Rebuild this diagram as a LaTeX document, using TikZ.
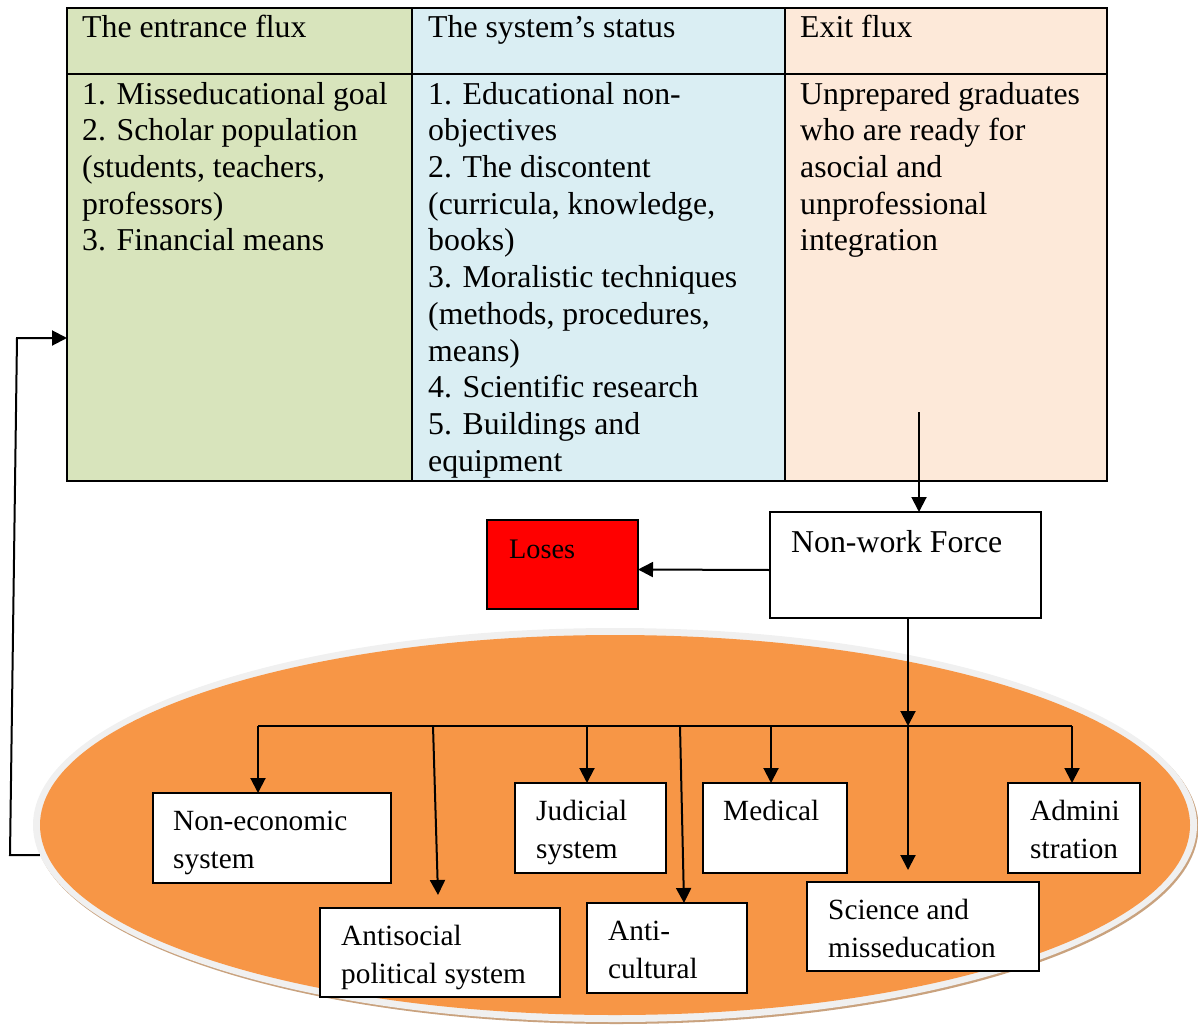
\documentclass[tikz,border=0pt]{standalone}
\usepackage{fontspec}
\setmainfont{Liberation Serif}
\usetikzlibrary{shapes.geometric,arrows.meta}
\definecolor{cellgreen}{HTML}{D8E4BC}
\definecolor{cellblue}{HTML}{DAEEF3}
\definecolor{cellpeach}{HTML}{FDE9D9}
\definecolor{fieldorange}{HTML}{F79646}
\definecolor{rimgray}{HTML}{F0F0F0}
\definecolor{rimshadow}{HTML}{C9A27E}
\definecolor{losered}{HTML}{FF0000}
\begin{document}
\begin{tikzpicture}[x=1pt,y=-1pt,
  cell/.style={draw=black, line width=2pt, anchor=north west, inner sep=0pt, outer sep=0pt},
  bigtext/.style={anchor=north west, inner sep=0pt, align=left, font=\fontsize{31.8}{36.7}\selectfont},
  smalltext/.style={anchor=north west, inner sep=0pt, align=left, font=\fontsize{29.3}{38.6}\selectfont},
  box/.style={draw=black, line width=2pt, fill=white, anchor=north west, inner sep=0pt, outer sep=0pt},
  oval/.style={ellipse, inner sep=0pt, outer sep=0pt},
  arr/.style={line width=2pt, -{Triangle[length=15pt,width=15pt]}},
  link/.style={line width=2pt}]

\useasboundingbox (0,0) rectangle (1198,1027);

% ---- three-column table ----
\node[cell, fill=cellgreen, minimum width=345pt, minimum height=66pt] (h1) at (67,8) {};
\node[cell, fill=cellblue,  minimum width=373pt, minimum height=66pt] (h2) at (412,8) {};
\node[cell, fill=cellpeach, minimum width=322pt, minimum height=66pt] (h3) at (785,8) {};
\node[cell, fill=cellgreen, minimum width=345pt, minimum height=407pt] (b1) at (67,74) {};
\node[cell, fill=cellblue,  minimum width=373pt, minimum height=407pt] (b2) at (412,74) {};
\node[cell, fill=cellpeach, minimum width=322pt, minimum height=407pt] (b3) at (785,74) {};

\node[bigtext] (th1) at ([xshift=15pt,yshift=-3.3pt]h1.north west) {\strut The entrance flux};
\node[bigtext] (th2) at ([xshift=16pt,yshift=-3.3pt]h2.north west) {\strut The system’s status};
\node[bigtext] (th3) at ([xshift=15pt,yshift=-3.3pt]h3.north west) {\strut Exit flux};

\node[bigtext] (tb1) at ([xshift=15pt,yshift=-4.3pt]b1.north west)
  {\strut 1. Misseducational goal\\2. Scholar population\\(students, teachers,\\professors)\\3. Financial means};
\node[bigtext] (tb2) at ([xshift=16pt,yshift=-4.3pt]b2.north west)
  {\strut 1. Educational non-\\objectives\\2. The discontent\\(curricula, knowledge,\\books)\\3. Moralistic techniques\\(methods, procedures,\\means)\\4. Scientific research\\5. Buildings and\\equipment};
\node[bigtext] (tb3) at ([xshift=15pt,yshift=-4.3pt]b3.north west)
  {\strut Unprepared graduates\\who are ready for\\asocial and\\unprofessional\\integration};

% ---- orange field with rim and thin shadow ----
\node[oval, fill=rimshadow, minimum width=1164pt, minimum height=394pt] (fieldshadow) at (616.5,827) {};
\node[oval, fill=rimgray, minimum width=1164pt, minimum height=394pt] (field) at (615,825) {};
\node[oval, fill=fieldorange, minimum width=1150pt, minimum height=380pt] (core) at (615,825) {};

% ---- non-work force and losses ----
\node[box, minimum width=271pt, minimum height=106pt] (nwf) at (770,512) {};
\node[bigtext] (nwft) at ([xshift=21pt,yshift=-14.3pt]nwf.north west) {\strut Non-work Force};
\node[box, fill=losered, minimum width=151pt, minimum height=89pt] (loses) at (487,520) {};
\node[anchor=north west, inner sep=0pt, font=\fontsize{28.3}{38.6}\selectfont] (losest)
  at ([xshift=22pt,yshift=-11pt]loses.north west) {\strut Loses};

% ---- systems inside the field ----
\node[box, minimum width=238pt, minimum height=90pt] (noneco) at (153,793) {};
\node[box, minimum width=240pt, minimum height=89pt] (antisoc) at (320,908) {};
\node[box, minimum width=151pt, minimum height=90pt] (judicial) at (515,783) {};
\node[box, minimum width=160pt, minimum height=90pt] (anticult) at (587,903) {};
\node[box, minimum width=144pt, minimum height=90pt] (medical) at (703,783) {};
\node[box, minimum width=232pt, minimum height=89pt] (science) at (807,882) {};
\node[box, minimum width=132pt, minimum height=90pt] (admin) at (1008,783) {};

\node[smalltext] (nonecot) at ([xshift=20pt,yshift=-10pt]noneco.north west) {\strut Non-economic\\system};
\node[smalltext] (antisoct) at ([xshift=21pt,yshift=-10pt]antisoc.north west) {\strut Antisocial\\political system};
\node[smalltext] (judicialt) at ([xshift=21pt,yshift=-10pt]judicial.north west) {\strut Judicial\\system};
\node[smalltext] (anticultt) at ([xshift=21pt,yshift=-10pt]anticult.north west) {\strut Anti-\\cultural};
\node[smalltext] (medicalt) at ([xshift=20pt,yshift=-10pt]medical.north west) {\strut Medical};
\node[smalltext] (sciencet) at ([xshift=21pt,yshift=-10pt]science.north west) {\strut Science and\\misseducation};
\node[smalltext] (admint) at ([xshift=22pt,yshift=-10pt]admin.north west) {\strut Admini\\stration};

% ---- connectors ----
\coordinate (exitA) at (919,412);
\draw[arr] (exitA) -- (exitA |- nwf.north);
\draw[arr] ([yshift=-5pt]nwf.west) -- ([yshift=-5pt]loses.east);

\coordinate (hub) at (908,726);
\draw[arr] (hub |- nwf.south) -- (hub);

\coordinate (dNE) at (258,726);
\coordinate (dAS) at (433,726);
\coordinate (dJU) at (587,726);
\coordinate (dAC) at (680,726);
\coordinate (dME) at (771,726);
\coordinate (dAD) at (1072,726);
\draw[link] (dNE) -- (dAD);
\draw[arr] (dNE) -- (dNE |- noneco.north);
\draw[arr] (dAS) -- ([xshift=-2pt,yshift=13pt]antisoc.north);
\draw[arr] (dJU) -- (dJU |- judicial.north);
\draw[arr] (dAC) -- ([xshift=17pt]anticult.north);
\draw[arr] (dME) -- (dME |- medical.north);
\draw[arr] (hub) -- ([yshift=12pt]science.north -| hub);
\draw[arr] (dAD) -- (dAD |- admin.north);

% feedback loop back to the entrance flux
\coordinate (fbA) at (10,855);
\coordinate (fbB) at (17,338);
\draw[arr] (field.183) -- (fbA) -- (fbB) -- (fbB -| b1.west);

\end{tikzpicture}
\end{document}
